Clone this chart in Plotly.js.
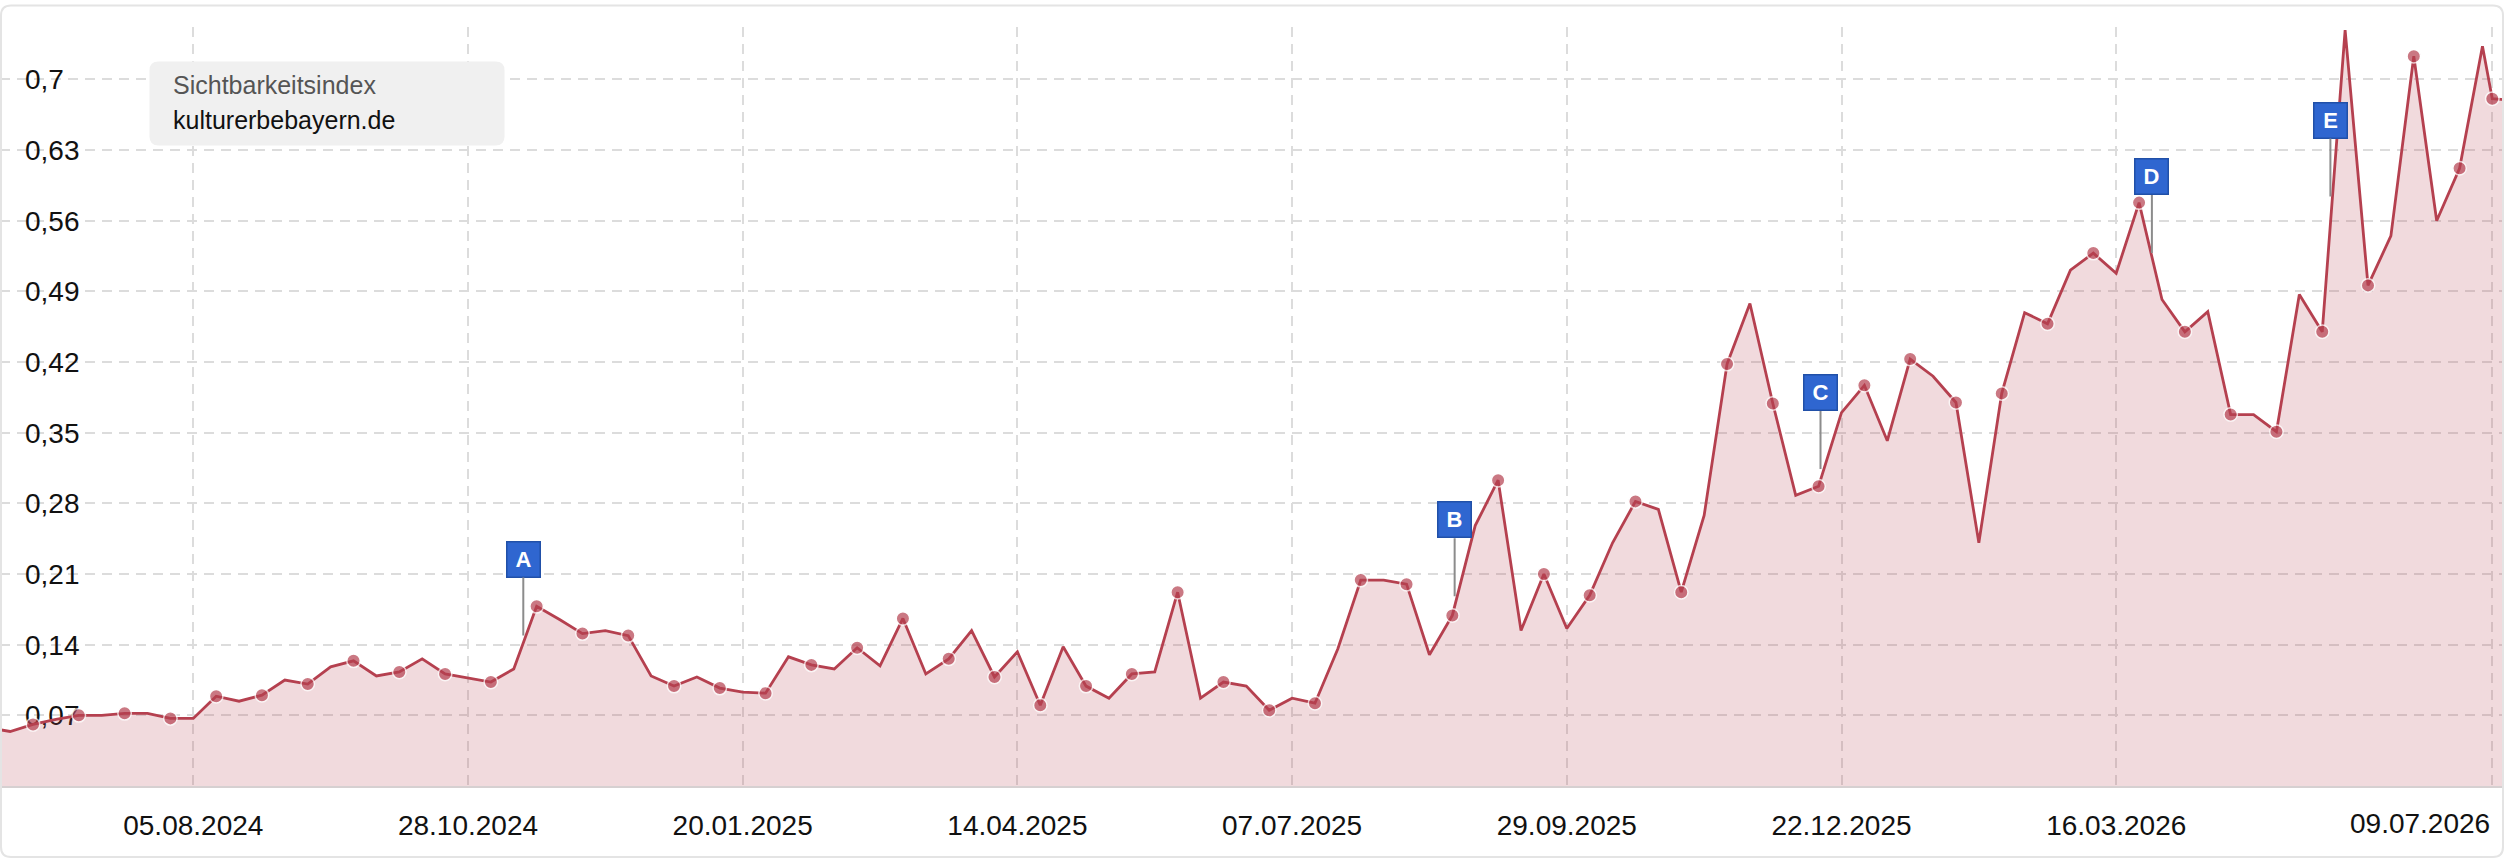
<!DOCTYPE html>
<html>
<head>
<meta charset="utf-8">
<script src="https://cdn.plot.ly/plotly-3.0.1.min.js"></script>
<style>
  html, body { margin: 0; padding: 0; background: #ffffff; }
  #chart { width: 2506px; height: 862px; }
</style>
</head>
<body>
<div id="chart"></div>
<script>
// ---------------- data ----------------
const firstWeek = '2024-06-03';           // first weekly data point (Monday)
const visibilityValues = [
  0.058, 0.054, 0.061, 0.066, 0.070, 0.070, 0.072, 0.072, 0.067, 0.067,
  0.089, 0.084, 0.090, 0.105, 0.101, 0.118, 0.124, 0.109, 0.113, 0.126,
  0.111, 0.107, 0.103, 0.116, 0.178, 0.165, 0.151, 0.154, 0.149, 0.109,
  0.099, 0.108, 0.097, 0.093, 0.092, 0.128, 0.120, 0.116, 0.137, 0.119,
  0.166, 0.111, 0.126, 0.154, 0.108, 0.133, 0.080, 0.138, 0.099, 0.087,
  0.111, 0.113, 0.192, 0.087, 0.103, 0.099, 0.075, 0.087, 0.082, 0.136,
  0.204, 0.204, 0.200, 0.130, 0.169, 0.258, 0.303, 0.154, 0.210, 0.156,
  0.189, 0.241, 0.282, 0.274, 0.192, 0.268, 0.418, 0.478, 0.379, 0.288,
  0.297, 0.370, 0.397, 0.342, 0.423, 0.406, 0.380, 0.241, 0.389, 0.469,
  0.458, 0.511, 0.528, 0.508, 0.578, 0.482, 0.450, 0.470, 0.368, 0.368,
  0.351, 0.487, 0.450, 0.749, 0.496, 0.545, 0.723, 0.560, 0.612, 0.733
];
const extraDates  = ['2026-07-09', '2026-07-13'];
const extraValues = [0.681, 0.680];

const xTickDates  = ['2024-08-05','2024-10-28','2025-01-20','2025-04-14','2025-07-07',
                     '2025-09-29','2025-12-22','2026-03-16','2026-07-09'];
const xTickLabels = ['05.08.2024','28.10.2024','20.01.2025','14.04.2025','07.07.2025',
                     '29.09.2025','22.12.2025','16.03.2026','09.07.2026'];
const yTickVals   = [0.07, 0.14, 0.21, 0.28, 0.35, 0.42, 0.49, 0.56, 0.63, 0.7];
const yTickLabels = ['0,07','0,14','0,21','0,28','0,35','0,42','0,49','0,56','0,63','0,7'];

const flagLetters = ['A', 'B', 'C', 'D', 'E'];
const flagDates   = ['2024-11-13 22:00', '2025-08-25 17:00', '2025-12-15 14:00',
                     '2026-03-26 22:00', '2026-05-20 12:00'];
const flagValues  = [0.149, 0.188, 0.314, 0.528, 0.584];

const legendTitle = 'Sichtbarkeitsindex';
const legendDomain = 'kulturerbebayern.de';

// ---------------- build series ----------------
const dayMs = 86400000;
const startMs = Date.parse(firstWeek + 'T00:00:00Z');
const dates = visibilityValues.map((v, i) =>
  new Date(startMs + i * 7 * dayMs).toISOString().slice(0, 10));
const xs = dates.concat(extraDates);
const ys = visibilityValues.concat(extraValues);

// ---------------- layout geometry ----------------
const W = 2506, H = 862;
const M = { l: 0, r: 2, t: 27, b: 76 };
const plotW = W - M.l - M.r, plotH = H - M.t - M.b;
const PX = px => (px - M.l) / plotW;
const PY = py => (H - M.b - py) / plotH;
function roundRect(x0, y0, x1, y1, r) {
  return 'M' + PX(x0 + r) + ',' + PY(y0) +
    ' L' + PX(x1 - r) + ',' + PY(y0) +
    ' Q' + PX(x1) + ',' + PY(y0) + ' ' + PX(x1) + ',' + PY(y0 + r) +
    ' L' + PX(x1) + ',' + PY(y1 - r) +
    ' Q' + PX(x1) + ',' + PY(y1) + ' ' + PX(x1 - r) + ',' + PY(y1) +
    ' L' + PX(x0 + r) + ',' + PY(y1) +
    ' Q' + PX(x0) + ',' + PY(y1) + ' ' + PX(x0) + ',' + PY(y1 - r) +
    ' L' + PX(x0) + ',' + PY(y0 + r) +
    ' Q' + PX(x0) + ',' + PY(y0) + ' ' + PX(x0 + r) + ',' + PY(y0) + ' Z';
}

const FONT = 'Helvetica Neue, Helvetica, Arial, Liberation Sans, sans-serif';
const lineColor = '#b5404f';
const markerColor = '#b5404f';

const trace = {
  type: 'scatter',
  mode: 'lines+markers',
  x: xs,
  y: ys,
  fill: 'tozeroy',
  fillcolor: 'rgba(185,70,85,0.2)',
  line: { color: lineColor, width: 2.8 },
  marker: {
    color: markerColor,
    size: ys.map((v, i) => (i % 2 === 0 ? 13.5 : 0)),
    line: { color: '#ffffff', width: 1.5 }
  },
  hoverinfo: 'x+y',
  cliponaxis: true
};

// last tick label is justified to end at its gridline (drawn as annotation)
const lastTick = xTickLabels.length - 1;
const shownTickText = xTickLabels.map((t, i) => (i === lastTick ? '' : t));

const annotations = flagLetters.map((L, i) => ({
  x: flagDates[i], y: flagValues[i], xref: 'x', yref: 'y',
  text: '<b>' + L + '</b>',
  showarrow: true, arrowhead: 0, arrowwidth: 2, arrowcolor: '#8c8c8c',
  ax: 0, ay: -58, standoff: 0,
  xanchor: 'center', yanchor: 'bottom',
  bgcolor: '#2f66d0', bordercolor: '#2150a8', borderwidth: 1.5, borderpad: 0,
  width: 32, height: 34,
  font: { family: FONT, size: 22, color: '#ffffff' }
}));
annotations.push({
  xref: 'x', yref: 'paper', x: xTickDates[lastTick], y: PY(823.5),
  xanchor: 'right', yanchor: 'middle', showarrow: false,
  text: xTickLabels[lastTick], font: { family: FONT, size: 28, color: '#111111' }
});
annotations.push({
  xref: 'paper', yref: 'paper', x: PX(171), y: PY(85),
  xanchor: 'left', yanchor: 'middle', showarrow: false,
  text: legendTitle, font: { family: FONT, size: 25, color: '#555555' }
});
annotations.push({
  xref: 'paper', yref: 'paper', x: PX(171), y: PY(120),
  xanchor: 'left', yanchor: 'middle', showarrow: false,
  text: legendDomain, font: { family: FONT, size: 25, color: '#111111' }
});

const layout = {
  width: W, height: H,
  margin: M,
  paper_bgcolor: '#ffffff',
  plot_bgcolor: '#ffffff',
  showlegend: false,
  font: { family: FONT, color: '#111111' },
  xaxis: {
    type: 'date',
    range: ['2024-06-06 21:36', '2026-07-12 14:00'],
    tickmode: 'array', tickvals: xTickDates, ticktext: shownTickText,
    tickfont: { family: FONT, size: 28, color: '#111111' },
    ticklabelstandoff: 14,
    ticks: '', showgrid: true, gridcolor: '#dcdcdc', griddash: '10px,7px', gridwidth: 1.5,
    showline: true, linecolor: '#d6d0d1', linewidth: 1.5,
    zeroline: false, fixedrange: true
  },
  yaxis: {
    range: [0, 0.752],
    tickmode: 'array', tickvals: yTickVals, ticktext: yTickLabels,
    tickfont: { family: FONT, size: 28, color: '#111111' },
    ticklabelposition: 'inside', ticklabelstandoff: 22,
    ticks: '', showgrid: true, gridcolor: '#dcdcdc', griddash: '10px,7px', gridwidth: 1.5,
    showline: false, zeroline: false, layer: 'below traces', fixedrange: true
  },
  shapes: [
    { type: 'path', xref: 'paper', yref: 'paper', path: roundRect(149.5, 61.5, 504.5, 145.5, 9),
      fillcolor: '#f0f0f0', line: { width: 0 }, layer: 'above' },
    { type: 'path', xref: 'paper', yref: 'paper', path: roundRect(1, 5.5, 2503, 857, 10),
      fillcolor: 'rgba(0,0,0,0)', line: { color: '#e4e4e4', width: 2 }, layer: 'above' }
  ],
  annotations: annotations
};

Plotly.newPlot('chart', [trace], layout, { displayModeBar: false, responsive: false });
</script>
</body>
</html>
